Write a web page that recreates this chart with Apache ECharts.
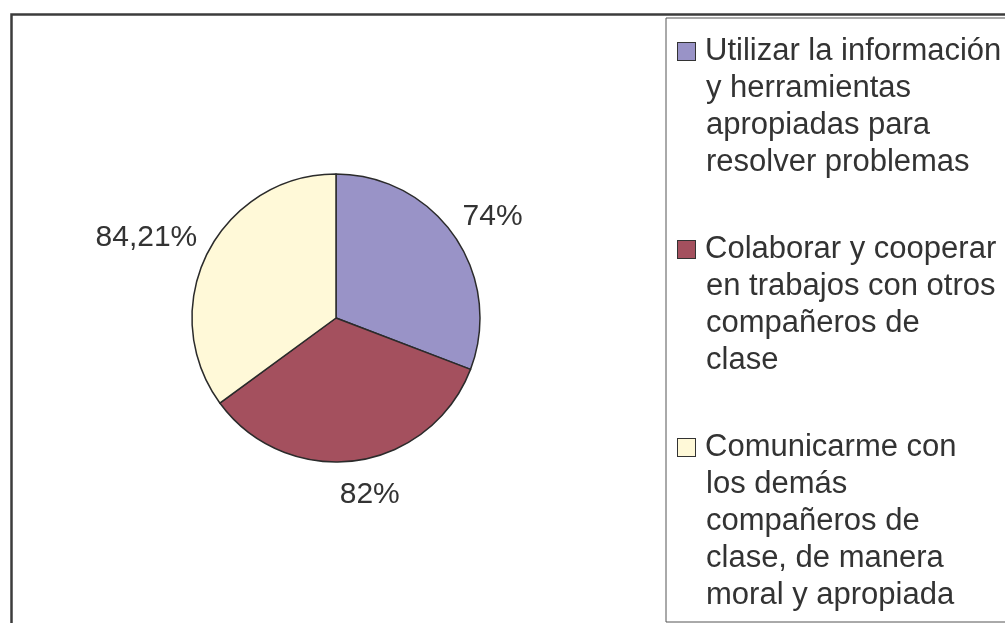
<!DOCTYPE html>
<html>
<head>
<meta charset="utf-8">
<script src="https://cdn.jsdelivr.net/npm/echarts@6/dist/echarts.min.js"></script>
<style>
  html, body { margin: 0; padding: 0; background: #fff; }
  #chart { width: 1005px; height: 623px; }
</style>
</head>
<body>
<div id="chart"></div>
<script>
// legend text, one entry per slice, already broken into lines
var categoryLines = [
    ['Utilizar la información', 'y herramientas', 'apropiadas para', 'resolver problemas'],
    ['Colaborar y cooperar', 'en trabajos con otros', 'compañeros de', 'clase'],
    ['Comunicarme con', 'los demás', 'compañeros de', 'clase, de manera', 'moral y apropiada']
];
var values = [74, 82, 84.21];
var colors = ['#9993c7', '#a4505e', '#fff9d8'];

var categories = categoryLines.map(function (l) { return l.join(' '); });

var chart = echarts.init(document.getElementById('chart'));

var rich = {
    sp: { width: 18, height: 18, lineHeight: 37 },
    t: { fontSize: 31, lineHeight: 37, color: '#333', padding: [0, 0, 0, 10], fontFamily: 'Liberation Sans' }
};
colors.forEach(function (c, i) {
    rich['b' + i] = {
        width: 17, height: 17, backgroundColor: c,
        borderColor: '#333', borderWidth: 1, verticalAlign: 'middle', lineHeight: 37
    };
});

var option = {
    backgroundColor: '#fff',
    animation: false,
    graphic: [{
        type: 'rect',
        left: 9, top: 12, z: -1,
        shape: { width: 1200, height: 800 },
        style: { fill: 'none', stroke: '#3c3c3c', lineWidth: 2.5 }
    }],
    legend: {
        orient: 'vertical',
        left: 666,
        top: 18,
        height: 900,
        padding: [18, 400, 11, 7],
        borderColor: '#555',
        borderWidth: 1,
        itemGap: 56,
        itemWidth: 0,
        itemHeight: 0,
        icon: 'none',
        selectedMode: false,
        data: categories,
        formatter: function (name) {
            var i = categories.indexOf(name);
            return categoryLines[i].map(function (line, k) {
                return (k === 0 ? '{b' + i + '|}' : '{sp|}') + '{t|' + line + '}';
            }).join('\n');
        },
        textStyle: { rich: rich }
    },
    series: [{
        type: 'pie',
        center: [336, 318],
        radius: 144,
        startAngle: 90,
        clockwise: true,
        avoidLabelOverlap: false,
        itemStyle: { borderColor: '#2b2b2b', borderWidth: 1.5 },
        emphasis: { disabled: true },
        label: {
            position: 'outside',
            fontSize: 30,
            fontFamily: 'Liberation Sans',
            color: '#333',
            distanceToLabelLine: -20,
            formatter: function (p) { return String(p.value).replace('.', ',') + '%'; }
        },
        labelLine: { show: false, length: 34, length2: 0 },
        data: categories.map(function (n, i) {
            return { name: n, value: values[i], itemStyle: { color: colors[i] } };
        })
    }]
};

chart.setOption(option);
</script>
</body>
</html>
